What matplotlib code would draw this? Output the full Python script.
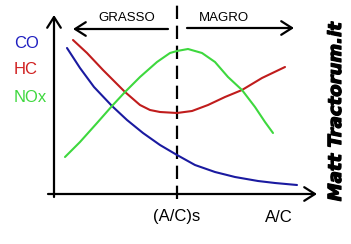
import matplotlib
matplotlib.use("Agg")
import matplotlib.pyplot as plt
import matplotlib.patheffects as pe

# values (x = A/C position, y = emission level, arbitrary units)
co_x = [13, 26, 40, 58, 73, 89, 106, 123, 141, 161, 181, 204, 221, 243]
co_y = [146, 126, 107, 88, 74, 61, 49, 39, 29, 22, 17, 13, 11, 9]

hc_x = [19, 33, 49, 71, 86, 96, 106, 123, 138, 154, 171, 188, 208, 231]
hc_y = [154, 141, 124, 102, 89, 84, 82, 81, 83, 89, 97, 104, 116, 127]

nox_x = [11, 26, 43, 58, 71, 86, 103, 116, 123, 134, 148, 161, 174, 188, 201, 211, 219]
nox_y = [37, 52, 71, 88, 102, 117, 132, 141, 143, 145, 141, 132, 117, 104, 87, 72, 61]

stoich_x = 123
series_names = ["CO", "HC", "NOx"]
series_colors = ["#1a1aa0", "#c01c1c", "#3ed83e"]
label_colors = ["#1f1fc0", "#d02020", "#3ed83e"]

plt.rcParams["font.family"] = ["Liberation Sans", "DejaVu Sans"]

fig = plt.figure(figsize=(3.51, 2.44), dpi=100)
ax = fig.add_axes([0, 0, 1, 1])
ax.set_xlim(-54, 297)
ax.set_ylim(-50, 194)
ax.axis("off")

arrow = dict(arrowstyle="->,head_length=0.55,head_width=0.35", lw=1.6,
             color="black", mutation_scale=14, shrinkA=0, shrinkB=0)

# axes drawn by hand, like the sketch
ax.annotate("", xy=(0, 179), xytext=(0, -3), arrowprops=arrow)
ax.annotate("", xy=(263, 0), xytext=(-6, 0), arrowprops=arrow)
ax.plot([stoich_x, stoich_x], [-5, 194], color="black", lw=1.6,
        dashes=(6, 3))

# rich / lean arrows
ax.annotate("", xy=(19, 165), xytext=(114, 165), arrowprops=arrow)
ax.annotate("", xy=(240, 166), xytext=(133, 166), arrowprops=arrow)
ax.text(73, 176, "GRASSO", fontsize=9.5, ha="center", va="center")
ax.text(170, 176, "MAGRO", fontsize=9.5, ha="center", va="center")

for xs, ys, c in zip([co_x, hc_x, nox_x], [co_y, hc_y, nox_y], series_colors):
    ax.plot(xs, ys, color=c, lw=1.5, solid_joinstyle="round",
            solid_capstyle="round")

for name, c, y in zip(series_names, label_colors, [150, 124, 97]):
    ax.text(-40, y, name, color=c, fontsize=12, ha="left", va="center")

ax.text(stoich_x, -23, "(A/C)s", fontsize=12, ha="center", va="center")
ax.text(225, -23, "A/C", fontsize=12, ha="center", va="center")

ax.text(282, 82, "Matt Tractorum.it", fontsize=13, fontweight="bold",
        fontstyle="italic", family="DejaVu Sans", rotation=90,
        ha="center", va="center",
        path_effects=[pe.withStroke(linewidth=0.9, foreground="black")])

fig.savefig("out.png", dpi=100)
